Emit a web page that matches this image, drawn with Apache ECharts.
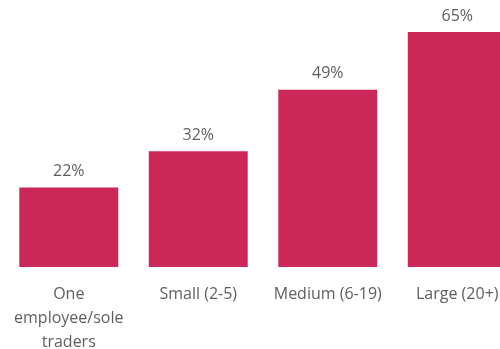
<!DOCTYPE html>
<html>
<head>
<meta charset="utf-8">
<script src="https://cdn.jsdelivr.net/npm/echarts@6/dist/echarts.min.js"></script>
<style>
    html, body { margin: 0; padding: 0; background: #fff; }
    #chart { width: 500px; height: 349px; }
</style>
</head>
<body>
<div id="chart"></div>
<script>
// data
var categories = ['One\nemployee/sole\ntraders', 'Small (2-5)', 'Medium (6-19)', 'Large (20+)'];
var values = [22, 32, 49, 65];

var myChart = echarts.init(document.getElementById('chart'));

myChart.setOption({
    animation: false,
    grid: {
        left: 4,
        right: -22,
        top: 32,
        bottom: 82,
        outerBoundsMode: 'none',
        containLabel: false
    },
    xAxis: {
        type: 'category',
        data: categories,
        axisLine: { show: false },
        axisTick: { show: false },
        axisLabel: {
            interval: 0,
            margin: 15,
            color: '#605e5c',
            fontFamily: 'Open Sans',
            fontSize: 16,
            lineHeight: 24
        }
    },
    yAxis: {
        type: 'value',
        min: 0,
        max: 65,
        show: false,
        splitLine: { show: false }
    },
    series: [
        {
            type: 'bar',
            data: values,
            barCategoryGap: '23.6%',
            itemStyle: { color: '#cc2759' },
            label: {
                show: true,
                position: 'top',
                distance: 8,
                formatter: '{c}%',
                color: '#605e5c',
                fontFamily: 'Open Sans',
                fontSize: 16
            }
        }
    ]
});
</script>
</body>
</html>
